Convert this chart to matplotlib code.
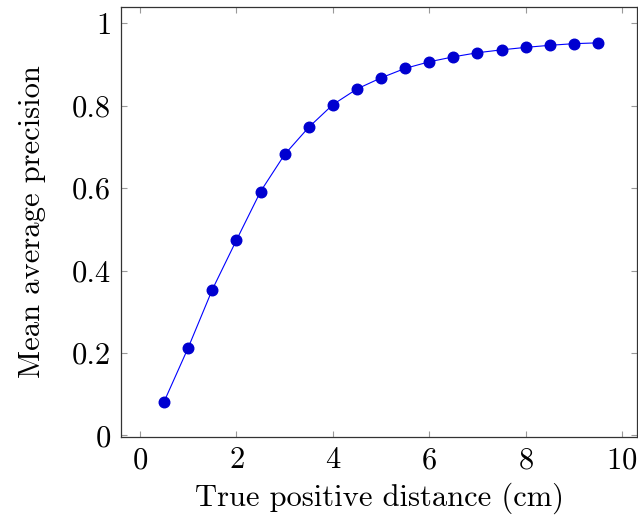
import matplotlib
matplotlib.use("Agg")
import matplotlib.pyplot as plt

plt.rcParams['font.family'] = ['cmr10', 'DejaVu Serif']
plt.rcParams['mathtext.fontset'] = 'cm'
plt.rcParams['axes.formatter.use_mathtext'] = True

distance = [0.5, 1.0, 1.5, 2.0, 2.5, 3.0, 3.5, 4.0, 4.5, 5.0,
            5.5, 6.0, 6.5, 7.0, 7.5, 8.0, 8.5, 9.0, 9.5]
mean_ap = [0.082, 0.213, 0.354, 0.474, 0.592, 0.682, 0.748, 0.803, 0.841, 0.868,
           0.891, 0.907, 0.919, 0.929, 0.936, 0.942, 0.947, 0.951, 0.953]

xticks = [0, 2, 4, 6, 8, 10]
yticks = [0, 0.2, 0.4, 0.6, 0.8, 1]
ytick_labels = ['0', '0.2', '0.4', '0.6', '0.8', '1']

fig = plt.figure(figsize=(6.38, 5.23), dpi=100)
ax = fig.add_axes([0.1897, 0.1644, 0.8088, 0.8222])

ax.plot(distance, mean_ap, color='#0000ff', lw=0.8, marker='o',
        markersize=7.6, markerfacecolor='#0000d0', markeredgecolor='#0000d0')

ax.set_xlim(-0.394, 10.31)
ax.set_ylim(-0.004, 1.04)
ax.set_xticks(xticks)
ax.set_yticks(yticks)
ax.set_yticklabels(ytick_labels)

ax.tick_params(direction='in', top=True, right=True, length=4.5, width=0.8,
               color='#999999', labelsize=22, pad=7)
for s in ax.spines.values():
    s.set_color('#333333')
    s.set_linewidth(0.9)

ax.set_xlabel('True positive distance (cm)', fontsize=22, labelpad=6)
ax.set_ylabel('Mean average precision', fontsize=22, labelpad=19)

fig.savefig('out.png', dpi=100)
